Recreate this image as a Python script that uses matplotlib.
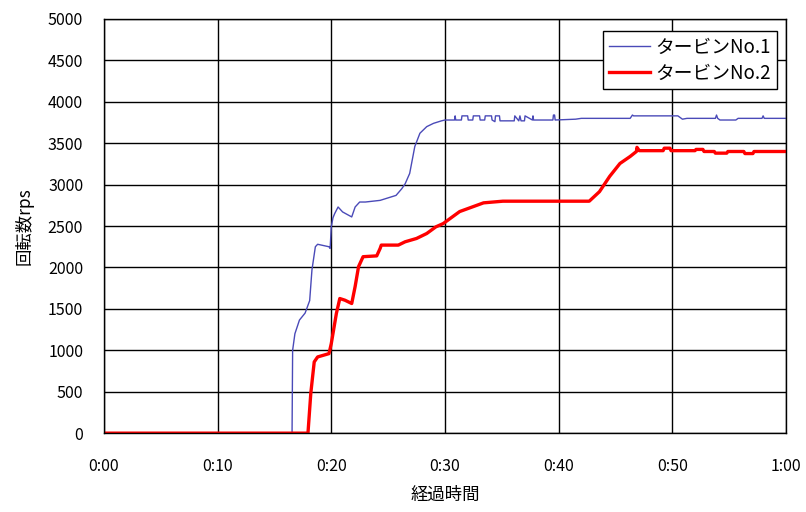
import matplotlib
matplotlib.use("Agg")
import matplotlib.pyplot as plt

plt.rcParams['font.family'] = ['Noto Sans CJK JP', 'DejaVu Sans']

# --- DATA (time in minutes, speed in rps) ---
t1 = [0, 16.55, 16.6, 16.8, 17.2, 17.7, 18.1, 18.3, 18.6, 18.8, 19.8, 19.9,
      20.0, 20.15, 20.3, 20.6, 21.0, 21.8, 22.1, 22.5, 23.0, 24.3, 25.7, 26.2,
      26.5, 26.9, 27.35, 27.8, 28.4, 29.0, 29.7, 30.0,
      30.85, 30.9, 30.95, 31.45, 31.5, 32.0, 32.05, 32.45, 32.5, 33.05, 33.1,
      33.5, 33.55, 34.1, 34.15, 34.4, 34.45, 34.8, 34.85, 36.1, 36.15, 36.5,
      36.6, 36.7, 37.0, 37.05, 37.7, 37.75, 37.8, 39.5, 39.55, 39.65, 39.7,
      41.5, 42.0, 46.3, 46.5, 46.6, 47.0, 50.5, 50.9, 51.3, 53.8, 53.9, 54.0,
      54.2, 55.6, 55.8, 57.9, 58.0, 58.1, 60.0]
rps1 = [0, 0, 1000, 1200, 1365, 1450, 1600, 1970, 2250, 2280, 2250, 2230,
        2490, 2600, 2650, 2730, 2670, 2610, 2730, 2790, 2790, 2810, 2870, 2950,
        3010, 3135, 3460, 3620, 3700, 3740, 3770, 3780,
        3780, 3830, 3780, 3780, 3830, 3830, 3780, 3780, 3830, 3830, 3780,
        3780, 3830, 3830, 3780, 3760, 3830, 3830, 3770, 3770, 3830, 3770,
        3830, 3770, 3770, 3830, 3780, 3830, 3780, 3780, 3840, 3840, 3780,
        3790, 3800, 3800, 3840, 3830, 3830, 3830, 3790, 3800, 3800, 3840, 3800,
        3780, 3780, 3800, 3800, 3830, 3800, 3800]

t2 = [0, 17.95, 18.2, 18.5, 18.8, 19.8, 20.0, 20.45, 20.75, 21.2, 21.8, 22.1,
      22.4, 22.8, 24.0, 24.3, 24.4, 25.9, 26.5, 27.5, 28.4, 29.2, 29.85, 31.3,
      32.5, 33.4, 35.1, 42.7, 43.6, 44.5, 45.4, 46.3, 46.85, 46.9, 47.1,
      49.2, 49.3, 49.8, 49.9, 52.0, 52.1, 52.7, 52.8, 53.7, 53.8, 54.8, 54.9,
      56.3, 56.4, 57.1, 57.2, 60.0]
rps2 = [0, 0, 483, 860, 920, 960, 1080, 1445, 1625, 1605, 1565, 1770,
        2010, 2130, 2140, 2230, 2270, 2270, 2310, 2350, 2410, 2490, 2530, 2675,
        2735, 2780, 2800, 2800, 2915, 3100, 3255, 3340, 3400, 3450, 3410,
        3410, 3440, 3440, 3410, 3410, 3425, 3425, 3400, 3400, 3380, 3380, 3400,
        3400, 3375, 3375, 3400, 3400]

x_ticks = [0, 10, 20, 30, 40, 50, 60]
x_labels = ['0:00', '0:10', '0:20', '0:30', '0:40', '0:50', '1:00']
y_ticks = list(range(0, 5001, 500))

# --- PLOT ---
fig = plt.figure(figsize=(8.06, 5.12), dpi=100)
ax = fig.add_axes([0.129, 0.154, 0.846, 0.809])

ax.plot(t1, rps1, color='#4a4ab8', linewidth=1.0, label='タービンNo.1')
ax.plot(t2, rps2, color='#ff0000', linewidth=2.4, label='タービンNo.2')

ax.set_xlim(0, 60)
ax.set_ylim(0, 5000)
ax.set_xticks(x_ticks)
ax.set_xticklabels(x_labels)
ax.set_yticks(y_ticks)
ax.grid(True, color='black', linewidth=1.0)
ax.set_axisbelow(True)
ax.tick_params(axis='x', length=0, pad=18, labelsize=11.5)
ax.tick_params(axis='y', length=0, pad=15, labelsize=11.5)
for s in ax.spines.values():
    s.set_color('black')
    s.set_linewidth(1.0)

ax.set_xlabel('経過時間', fontsize=12.5, labelpad=8)
ax.set_ylabel('回転数rps', fontsize=12.5, labelpad=10)

leg = ax.legend(loc='upper right', bbox_to_anchor=(0.987, 0.97), fancybox=False,
                framealpha=1, edgecolor='black', fontsize=13.5, handlelength=2.2,
                handletextpad=0.3, borderpad=0.3, labelspacing=0.25,
                borderaxespad=0)
leg.get_frame().set_linewidth(1.0)

fig.savefig('out.png', dpi=100)
